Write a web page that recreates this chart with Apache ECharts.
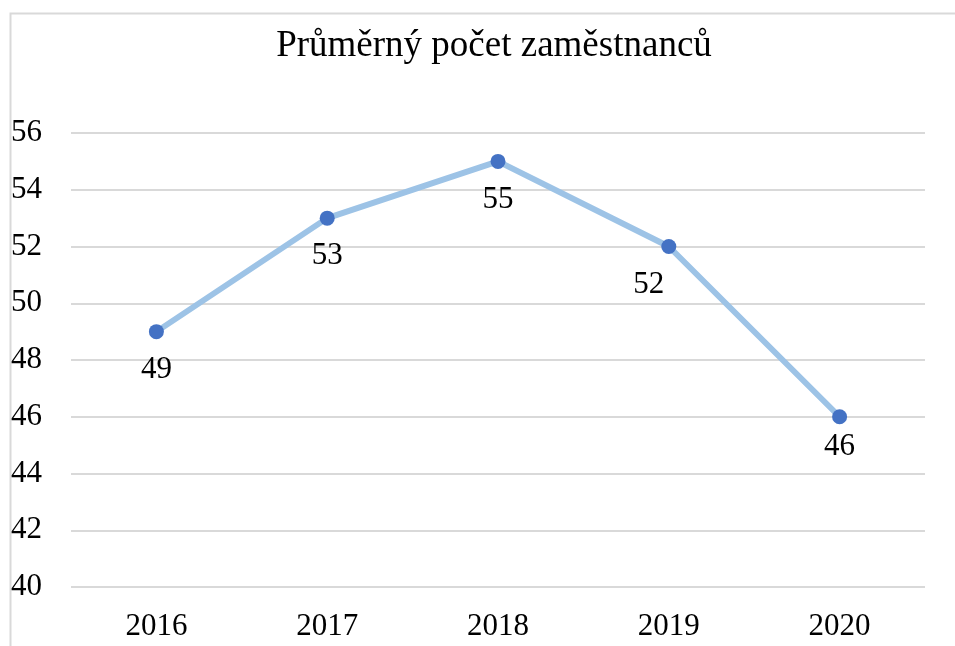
<!DOCTYPE html>
<html>
<head>
<meta charset="utf-8">
<script src="https://cdn.jsdelivr.net/npm/echarts@6/dist/echarts.min.js"></script>
<style>
  html, body { margin: 0; padding: 0; background: #fff; }
  #chart { width: 955px; height: 646px; }
</style>
</head>
<body>
<div id="chart"></div>
<script>
// data
const years = ["2016", "2017", "2018", "2019", "2020"];
const employees = [49, 53, 55, 52, 46];
const yTicks = [40, 42, 44, 46, 48, 50, 52, 54, 56];

const font = "'Liberation Serif', 'Times New Roman', serif";

// label nudges (Excel moved a couple of labels)
const labelShift = { 3: [-20, 0], 4: [0, -8] };

const chart = echarts.init(document.getElementById("chart"));
chart.setOption({
  animation: false,
  title: {
    text: "Průměrný počet zaměstnanců",
    left: 489,
    top: 23,
    textAlign: "center",
    textStyle: { fontFamily: font, fontSize: 37, fontWeight: "normal", color: "#000" }
  },
  graphic: [{
    type: "rect",
    left: 8,
    top: 11,
    shape: { width: 1000, height: 700 },
    style: { fill: "none", stroke: "#d9d9d9", lineWidth: 2 },
    silent: true
  }],
  grid: { left: 71, right: 30, top: 133, bottom: 59 },
  xAxis: {
    type: "category",
    data: years,
    axisLine: { show: false },
    axisTick: { show: false },
    axisLabel: { color: "#000", fontFamily: font, fontSize: 31, margin: 24 }
  },
  yAxis: {
    type: "value",
    min: yTicks[0],
    max: yTicks[yTicks.length - 1],
    interval: 2,
    axisLine: { show: false },
    axisTick: { show: false },
    axisLabel: { color: "#000", fontFamily: font, fontSize: 31, align: "left", margin: 60 },
    splitLine: { lineStyle: { color: "#d9d9d9", width: 2 } }
  },
  series: [{
    type: "line",
    data: employees.map((v, i) => ({
      value: v,
      label: labelShift[i] ? { offset: labelShift[i] } : undefined
    })),
    symbol: "circle",
    symbolSize: 15,
    itemStyle: { color: "#4472c4" },
    lineStyle: { color: "#9dc3e6", width: 6 },
    label: {
      show: true,
      position: "bottom",
      distance: 15,
      color: "#000",
      fontFamily: font,
      fontSize: 31
    }
  }]
});
</script>
</body>
</html>
